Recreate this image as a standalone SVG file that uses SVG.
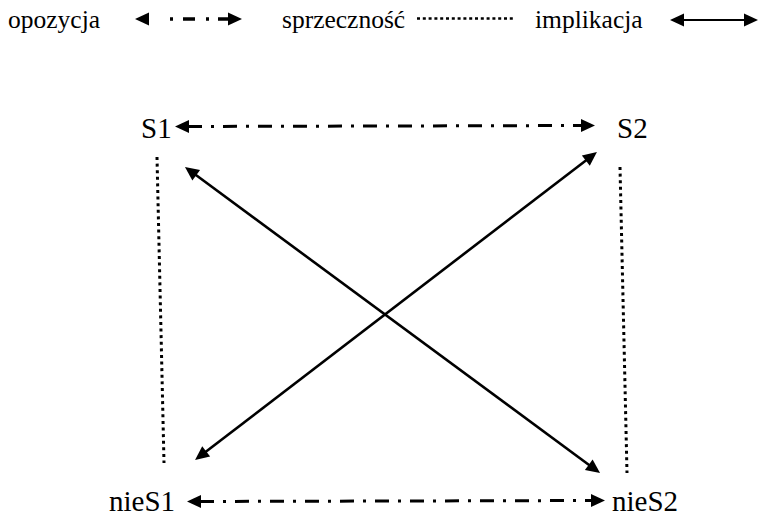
<svg xmlns="http://www.w3.org/2000/svg" width="760" height="517" viewBox="0 0 760 517">
<style>
  text { font-family: 'Liberation Serif', 'DejaVu Serif', serif; fill: #000; }
  .leg { font-size: 25.5px; }
  .lbl { font-size: 29px; }
  .solid { stroke: #000; stroke-width: 2.6; fill: none; marker-start: url(#ah); marker-end: url(#ah); }
  .dashdot { stroke: #000; stroke-width: 3; fill: none; stroke-dasharray: 14 9 3 9; marker-start: url(#ah); marker-end: url(#ah); }
  .dotted { stroke: #000; stroke-width: 3; fill: none; stroke-dasharray: 3 3.6; }
</style>
<defs>
  <marker id="ah" markerUnits="userSpaceOnUse" markerWidth="15" markerHeight="14" refX="5" refY="6.5" orient="auto-start-reverse" overflow="visible">
    <path d="M0,0 L14,6.5 L0,13 Z" fill="#000"/>
  </marker>
</defs>
<g id="legend">
  <text class="leg" x="8" y="28">opozycja</text>
  <path d="M144,19 H149 M170,19 h3 M183,19 h12 M206,19 h3 M218,19 H233" stroke="#000" stroke-width="3.4" fill="none" marker-start="url(#ah)" marker-end="url(#ah)"/>
  <text class="leg" x="282" y="28">sprzeczność</text>
  <line x1="417" y1="18.5" x2="515" y2="18.5" stroke="#000" stroke-width="2.6" stroke-dasharray="3 2.8"/>
  <text class="leg" x="535" y="28">implikacja</text>
  <line x1="679" y1="20" x2="749" y2="20" stroke="#000" stroke-width="2.2" marker-start="url(#ah)" marker-end="url(#ah)"/>
</g>
<g id="S1"><text class="lbl" x="141" y="138">S1</text></g>
<g id="S2"><text class="lbl" x="617" y="138">S2</text></g>
<g id="nieS1"><text class="lbl" x="109" y="511">nieS1</text></g>
<g id="nieS2"><text class="lbl" x="612" y="511">nieS2</text></g>
<g id="connectors">
  <line class="dashdot" x1="184" y1="126.5" x2="586" y2="125.5" stroke-dashoffset="-4"/>
  <line class="dashdot" x1="196" y1="501.5" x2="596" y2="500.5" stroke-dasharray="11 9 3 9" stroke-dashoffset="-4"/>
  <line class="dotted" x1="157" y1="157" x2="164" y2="463"/>
  <line class="dotted" x1="620" y1="167" x2="627" y2="473"/>
  <line class="solid" x1="192.2" y1="172.3" x2="592.8" y2="467.7"/>
  <line class="solid" x1="202.2" y1="454.5" x2="589.8" y2="157.5"/>
</g>
</svg>
